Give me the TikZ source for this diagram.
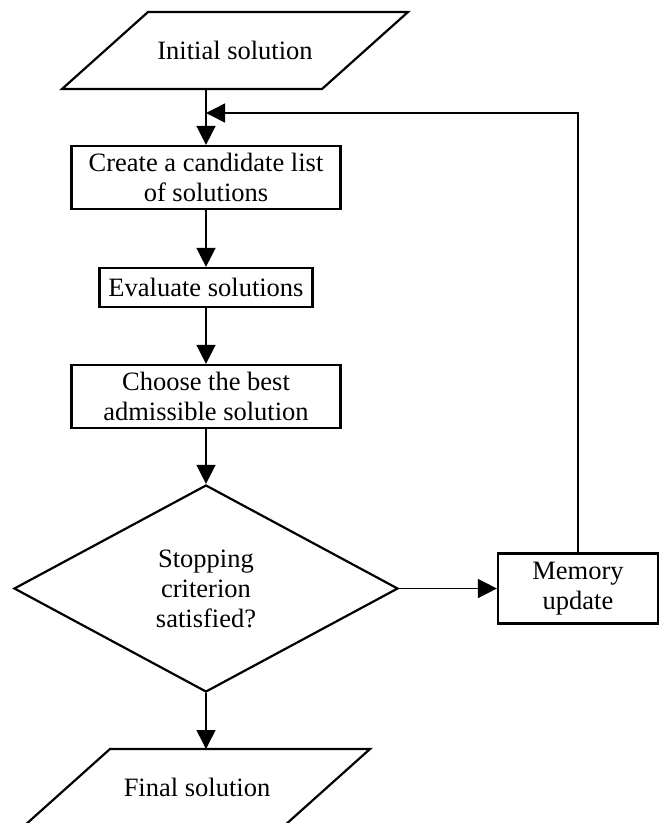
\documentclass[tikz,border=0pt]{standalone}
\usepackage{fontspec}
\setmainfont{Liberation Serif}
\usetikzlibrary{shapes.geometric,arrows.meta}

\begin{document}
\begin{tikzpicture}[x=1pt,y=-1pt,
  font=\fontsize{26.5}{30}\selectfont,
  box/.style={draw,line width=2.2pt,rectangle,align=center,inner sep=0pt},
  io/.style={rectangle,minimum width=260pt,minimum height=77pt,inner sep=0pt,outer sep=0pt},
  iopath/.style={line width=2.2pt,line join=miter},
  decision/.style={draw,line width=2.2pt,diamond,align=center,minimum width=384pt,minimum height=207pt,inner sep=0pt},
  flow/.style={line width=1.5pt,-{Triangle[length=19pt,width=19pt]}}]
  \useasboundingbox (0,0) rectangle (659,823);
  \node[io] (init) at (235,50.5) {Initial solution};
  \draw[iopath] ([xshift=43pt]init.north west) -- ([xshift=43pt]init.north east)
    -- ([xshift=-43pt]init.south east) -- ([xshift=-43pt]init.south west) -- cycle;
  \node[box,minimum width=269pt,minimum height=63pt] (create) at (206,177.5) {Create a candidate list\\of solutions};
  \node[box,minimum width=213pt,minimum height=39pt] (eval) at (206,287.5) {Evaluate solutions};
  \node[box,minimum width=269pt,minimum height=63pt] (choose) at (206,396.5) {Choose the best\\admissible solution};
  \node[decision] (stop) at (206,588.5) {Stopping\\criterion\\satisfied?};
  \node[box,minimum width=160pt,minimum height=70pt] (mem) at (578,588.5) {Memory\\update};
  \node[io] (final) at (197,787.5) {Final solution};
  \draw[iopath] ([xshift=43pt]final.north west) -- ([xshift=43pt]final.north east)
    -- ([xshift=-43pt]final.south east) -- ([xshift=-43pt]final.south west) -- cycle;
  \coordinate (join) at (206,113);
  \draw[flow] (init.south -| create.north) -- (create.north);
  \draw[flow] (create) -- (eval);
  \draw[flow] (eval) -- (choose);
  \draw[flow] (choose) -- (stop);
  \draw[flow] (stop) -- (mem);
  \draw[flow] (stop.south) -- (stop.south |- final.north);
  \draw[flow] (mem.north) |- (join);
\end{tikzpicture}
\end{document}
